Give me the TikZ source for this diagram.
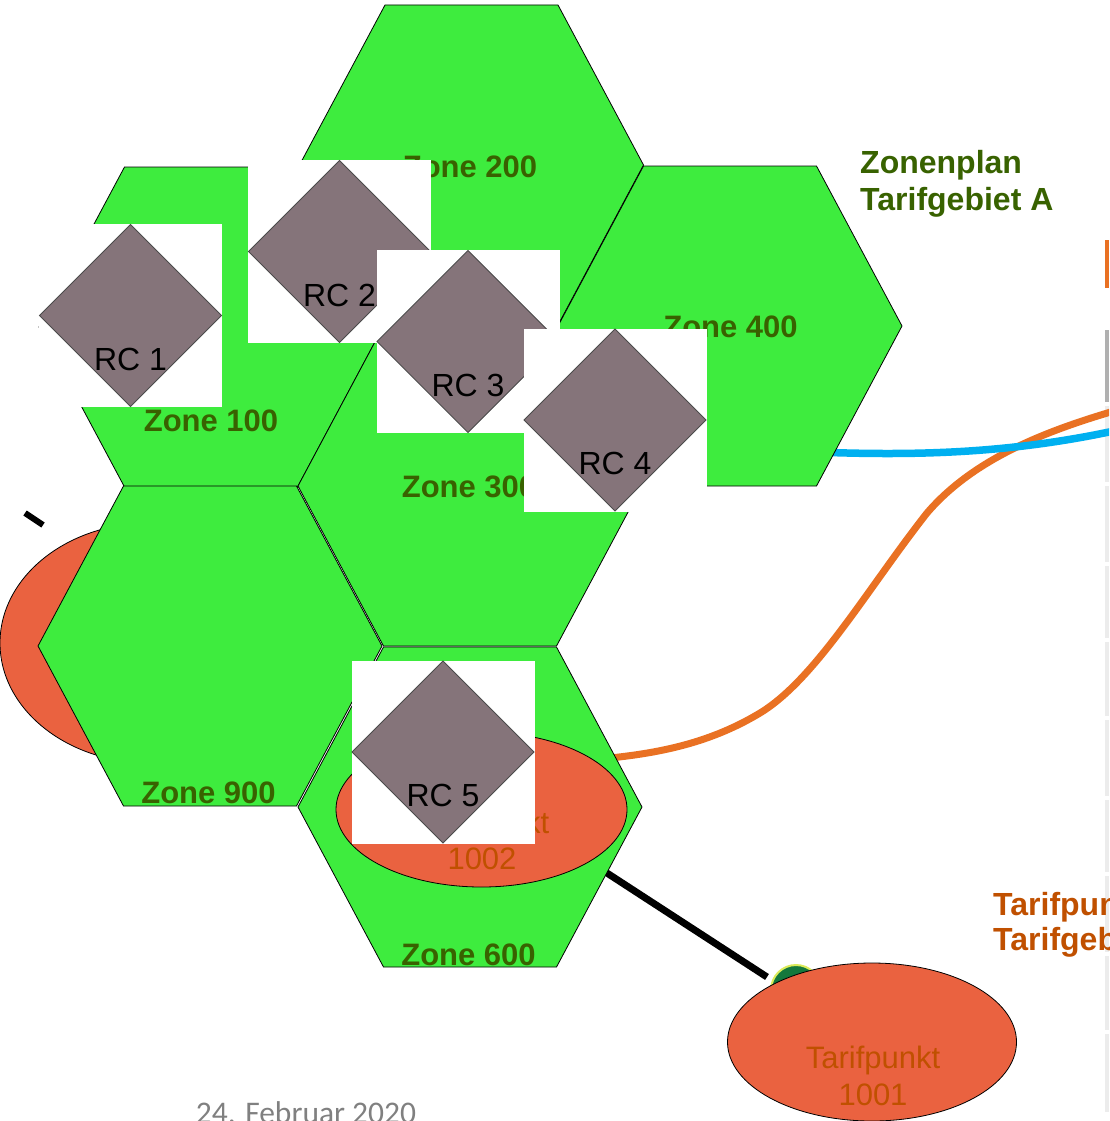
\documentclass[tikz,border=0pt]{standalone}
\usepackage{fontspec}
\setmainfont{Liberation Sans}
\newfontfamily\datefont{Carlito}
\usetikzlibrary{shapes.geometric}
\definecolor{hexgreen}{RGB}{62,236,62}
\definecolor{zonetext}{RGB}{56,98,0}
\definecolor{tariffill}{RGB}{234,98,64}
\definecolor{tariftext}{RGB}{192,80,0}
\definecolor{rcfill}{RGB}{133,116,122}
\definecolor{rcborder}{RGB}{75,75,75}
\definecolor{orangeline}{RGB}{233,113,35}
\definecolor{blueline}{RGB}{0,176,240}
\definecolor{dategray}{RGB}{128,128,128}
\definecolor{cellgray}{RGB}{236,236,236}
\definecolor{bargray}{RGB}{176,176,176}
\definecolor{blobgreen}{RGB}{20,120,60}
\definecolor{blobyellow}{RGB}{220,235,90}
\begin{document}
\begin{tikzpicture}[x=1pt,y=-1pt,
  hexstyle/.style={fill=hexgreen,draw=black,line width=0.8pt},
  hexa/.pic={\path[hexstyle] (-172,0) -- (-86.5,-160) -- (86.5,-160) -- (172,0) -- (86.5,160) -- (-86.5,160) -- cycle;},
  zonelabel/.style={anchor=base,inner sep=0,text=zonetext,font=\fontsize{31}{36}\selectfont\bfseries},
  rcbox/.style={rectangle,fill=white,minimum size=183pt,inner sep=0,outer sep=0},
  rcdia/.style={diamond,fill=rcfill,draw=rcborder,line width=0.9pt,minimum width=182pt,minimum height=182pt,inner sep=0,outer sep=0},
  rclabel/.style={anchor=base,inner sep=0,text=black,font=\fontsize{32}{36}\selectfont},
  tarif/.style={ellipse,fill=tariffill,draw=black,line width=0.8pt,inner sep=0,outer sep=0},
  tariflabel/.style={anchor=base,inner sep=0,text=tariftext,font=\fontsize{31}{36}\selectfont},
  titlelabel/.style={anchor=base west,inner sep=0,text=zonetext,font=\fontsize{32}{37}\selectfont\bfseries},
  sidelabel/.style={anchor=base west,inner sep=0,text=tariftext,font=\fontsize{32}{36}\selectfont\bfseries},
  orangeconn/.style={draw=orangeline,line width=7pt},
  blueconn/.style={draw=blueline,line width=7.5pt},
  blackconn/.style={draw=black,line width=7pt,line cap=butt},
  cell/.style={fill=cellgray,draw=none}
]
\useasboundingbox (0,0) rectangle (1109,1121);
\clip (0,0) rectangle (1109,1121);

% right edge fragments
\fill[orangeline] (1105,240) rectangle (1109,288);
\fill[bargray] (1105,330) rectangle (1109,402);
\foreach \a/\b in {406/482,486/562,566/638,642/716,720/796,800/872,876/952,956/1030,1034/1112}
  \fill[cell] (1105,\a) rectangle (1109,\b);

% connector end points
\coordinate (o1) at (600,759);
\coordinate (o2) at (760,713);
\coordinate (o3) at (927,513);
\coordinate (o4) at (1114,411);
\coordinate (b1) at (815,452);
\coordinate (b2) at (1114,431);
\coordinate (k1) at (590,862);
\coordinate (k2) at (767,977);
\coordinate (s1) at (25,513);
\coordinate (s2) at (43,525);

% connectors (beneath the zones)
\draw[orangeconn] (o1) .. controls (653,754) and (707,745) .. (o2)
  .. controls (816,679) and (868,588) .. (o3)
  .. controls (975,457) and (1050,430) .. (o4);
\draw[blueconn] (b1) .. controls (920,456) and (1010,453) .. (b2);
\draw[blackconn] (k1) -- (k2);
\draw[black,line width=6pt] (s1) -- (s2);

% partly hidden shapes
\node[circle,fill=blobgreen,draw=blobyellow,line width=2pt,minimum size=50pt,inner sep=0] (blob) at (796,990) {};
\node[tarif,minimum width=300pt,minimum height=240pt] (tleft) at (150,643) {};

% zones
\pic (z200) at (471.5,165) {hexa};
\pic (z400) at (730,326) {hexa};
\pic (z100) at (211,327) {hexa};
\pic (z300) at (470,486) {hexa};
\pic (z900) at (210,646) {hexa};
\pic (z600) at (470,807) {hexa};

% tarif points
\node[tarif,minimum width=291pt,minimum height=155pt] (t1002) at (481.5,809.5) {};
\node[tariflabel] (t1002a) at (482,833) {Tarifpunkt};
\node[tariflabel] (t1002b) at (482,869) {1002};
\node[tarif,minimum width=289pt,minimum height=158pt] (t1001) at (872,1042) {};
\node[tariflabel] (t1001a) at (873,1068) {Tarifpunkt};
\node[tariflabel] (t1001b) at (873,1105) {1001};

% zone labels
\node[zonelabel] (l200) at (470,177) {Zone 200};
\node[zonelabel] (l400) at (730.5,337) {Zone 400};
\node[zonelabel] (l100) at (211,431) {Zone 100};
\node[zonelabel] (l300) at (469,497) {Zone 300};
\node[zonelabel] (l900) at (208.5,803) {Zone 900};
\node[zonelabel] (l600) at (468.5,965) {Zone 600};

% RC boxes
\node[rcbox] (rc1box) at (130.5,315.5) {};
\node[rcdia] (rc1) at (rc1box) {};
\node[rclabel] (rc1l) at (130.5,370) {RC 1};
\node[rcbox] (rc2box) at (339.5,251.5) {};
\node[rcdia] (rc2) at (rc2box) {};
\node[rclabel] (rc2l) at (339.5,306) {RC 2};
\node[rcbox] (rc3box) at (468,341.5) {};
\node[rcdia] (rc3) at (rc3box) {};
\node[rclabel] (rc3l) at (468,396.5) {RC 3};
\node[rcbox] (rc4box) at (615,420) {};
\node[rcdia] (rc4) at (rc4box) {};
\node[rclabel] (rc4l) at (615,474) {RC 4};
\node[rcbox] (rc5box) at (443,752) {};
\node[rcdia] (rc5) at (rc5box) {};
\node[rclabel] (rc5l) at (443,806) {RC 5};

% titles
\node[titlelabel] (title1) at (860,173) {Zonenplan};
\node[titlelabel] (title2) at (860,210) {Tarifgebiet A};
\node[sidelabel] (side1) at (993,915) {Tarifpunkt};
\node[sidelabel] (side2) at (993,950) {Tarifgebiet};
\node[anchor=base,inner sep=0,text=dategray,font=\datefont\fontsize{31.5}{36}\selectfont] (date) at (306,1123) {24. Februar 2020};
\end{tikzpicture}
\end{document}
